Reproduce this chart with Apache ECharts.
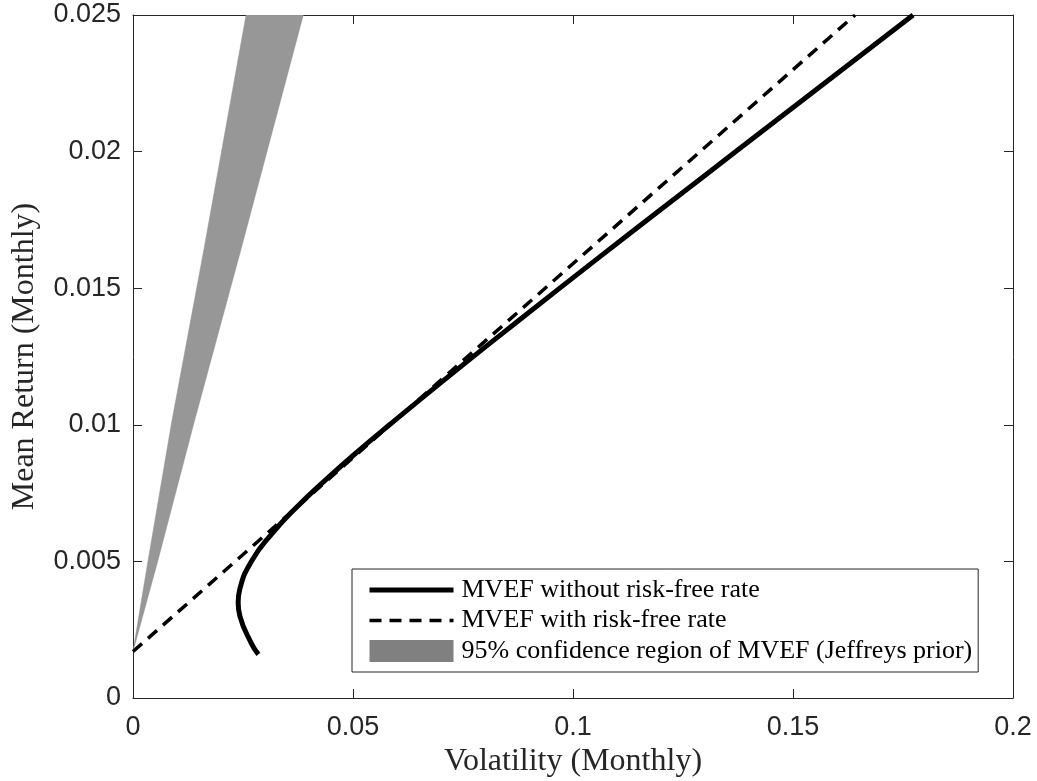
<!DOCTYPE html>
<html>
<head>
<meta charset="utf-8">
<script src="https://cdn.jsdelivr.net/npm/echarts@6/dist/echarts.min.js"></script>
<style>
  html, body { margin: 0; padding: 0; background: #fff; }
  #main { width: 1037px; height: 781px; }
</style>
</head>
<body>
<div id="main"></div>
<script>
// efficient frontier without risk-free asset (volatility, mean return)
var mvefVol = [0.0285, 0.0269, 0.0243, 0.0239, 0.0243, 0.0269, 0.0315, 0.0373, 0.0439, 0.0509, 0.0583,
               0.0735, 0.0891, 0.1049, 0.1209, 0.1370, 0.1531, 0.1773];
var mvefRet = [0.0016, 0.0020, 0.0030, 0.0035, 0.0040, 0.0050, 0.0060, 0.0070, 0.0080, 0.0090, 0.0100,
               0.0120, 0.0140, 0.0160, 0.0180, 0.0200, 0.0220, 0.0250];
// capital market line (with risk-free rate)
var cmlVol = [0, 0.1641];
var cmlRet = [0.0017, 0.0250];
// 95% confidence region outline (left edge up, then right edge down)
var regionVol = [0, 0.0034, 0.0088, 0.0161, 0.0257, 0.0387, 0.0245, 0.0139, 0.0056, 0];
var regionRet = [0.0017, 0.0050, 0.0101, 0.0164, 0.0250, 0.0250, 0.0164, 0.0101, 0.0050, 0.0017];

var xTicks = [0, 0.05, 0.1, 0.15, 0.2];
var yTicks = [0, 0.005, 0.01, 0.015, 0.02, 0.025];

var names = ['MVEF without risk-free rate', 'MVEF with risk-free rate',
             '95% confidence region of MVEF (Jeffreys prior)'];

function pairs(xs, ys) {
    var out = [];
    for (var i = 0; i < xs.length; i++) out.push([xs[i], ys[i]]);
    return out;
}

var tickFont = 'Liberation Sans, Arial, sans-serif';
var texFont = 'Liberation Serif, Times New Roman, serif';

var myChart = echarts.init(document.getElementById('main'));

function axisBase() {
    return {
        axisLine: { show: true, onZero: false, lineStyle: { color: '#262626', width: 1 } },
        axisTick: { show: true, inside: true, length: 9, lineStyle: { color: '#262626' } },
        splitLine: { show: false }
    };
}

var option = {
    animation: false,
    backgroundColor: '#fff',
    grid: { left: 133, right: 24, top: 15, bottom: 83, containLabel: false, outerBoundsMode: 'none' },
    legend: {
        orient: 'vertical',
        left: 352,
        top: 569,
        padding: [8, 6, 8, 15],
        itemGap: 4.5,
        itemWidth: 84,
        itemHeight: 22,
        borderColor: '#262626',
        borderWidth: 1,
        backgroundColor: '#fff',
        textStyle: { fontFamily: texFont, fontSize: 26, lineHeight: 24, color: '#000', padding: [0, 0, 0, 3] },
        data: [
            { name: names[0], itemStyle: { opacity: 0 }, lineStyle: { width: 5, color: '#000' } },
            { name: names[1], itemStyle: { opacity: 0 }, lineStyle: { width: 3.5, color: '#000', type: [12, 8] } },
            { name: names[2], icon: 'rect', itemStyle: { color: '#808080' } }
        ]
    },
    xAxis: [
        Object.assign(axisBase(), {
            type: 'value', min: xTicks[0], max: xTicks[xTicks.length - 1], interval: xTicks[1] - xTicks[0],
            name: 'Volatility (Monthly)', nameLocation: 'middle', nameGap: 45,
            nameTextStyle: { fontFamily: texFont, fontSize: 32, color: '#262626' },
            axisLabel: { margin: 16, fontFamily: tickFont, fontSize: 27, color: '#262626',
                formatter: function (v) { return String(+v.toFixed(3)); } }
        }),
        Object.assign(axisBase(), {
            type: 'value', min: xTicks[0], max: xTicks[xTicks.length - 1], interval: xTicks[1] - xTicks[0],
            position: 'top', axisLabel: { show: false }
        })
    ],
    yAxis: [
        Object.assign(axisBase(), {
            type: 'value', min: yTicks[0], max: yTicks[yTicks.length - 1], interval: yTicks[1] - yTicks[0],
            name: 'Mean Return (Monthly)', nameLocation: 'middle', nameGap: 92,
            nameTextStyle: { fontFamily: texFont, fontSize: 32, color: '#262626' },
            axisLabel: { margin: 12, fontFamily: tickFont, fontSize: 27, color: '#262626',
                formatter: function (v) { return String(+v.toFixed(4)); } }
        }),
        Object.assign(axisBase(), {
            type: 'value', min: yTicks[0], max: yTicks[yTicks.length - 1], interval: yTicks[1] - yTicks[0],
            position: 'right', axisLabel: { show: false }
        })
    ],
    series: [
        {
            name: names[2],
            type: 'custom',
            xAxisIndex: 0, yAxisIndex: 0,
            z: 1,
            itemStyle: { color: '#808080' },
            data: pairs(regionVol, regionRet),
            renderItem: function (params, api) {
                if (params.dataIndex !== 0) return null;
                var pts = [];
                for (var i = 0; i < regionVol.length; i++) {
                    pts.push(api.coord([regionVol[i], regionRet[i]]));
                }
                var cs = params.coordSys;
                return {
                    type: 'polygon',
                    shape: { points: pts },
                    clipPath: { type: 'rect', shape: { x: cs.x, y: cs.y, width: cs.width, height: cs.height } },
                    style: { fill: '#979797', stroke: '#8e8e8e', lineWidth: 0.5 }
                };
            }
        },
        {
            name: names[0],
            type: 'line',
            symbol: 'none',
            smooth: true,
            z: 3,
            color: '#000',
            lineStyle: { color: '#000', width: 5 },
            data: pairs(mvefVol, mvefRet)
        },
        {
            name: names[1],
            type: 'line',
            symbol: 'none',
            z: 2,
            color: '#000',
            lineStyle: { color: '#000', width: 3.5, type: [12, 8] },
            data: pairs(cmlVol, cmlRet)
        }
    ]
};

myChart.setOption(option);
</script>
</body>
</html>
